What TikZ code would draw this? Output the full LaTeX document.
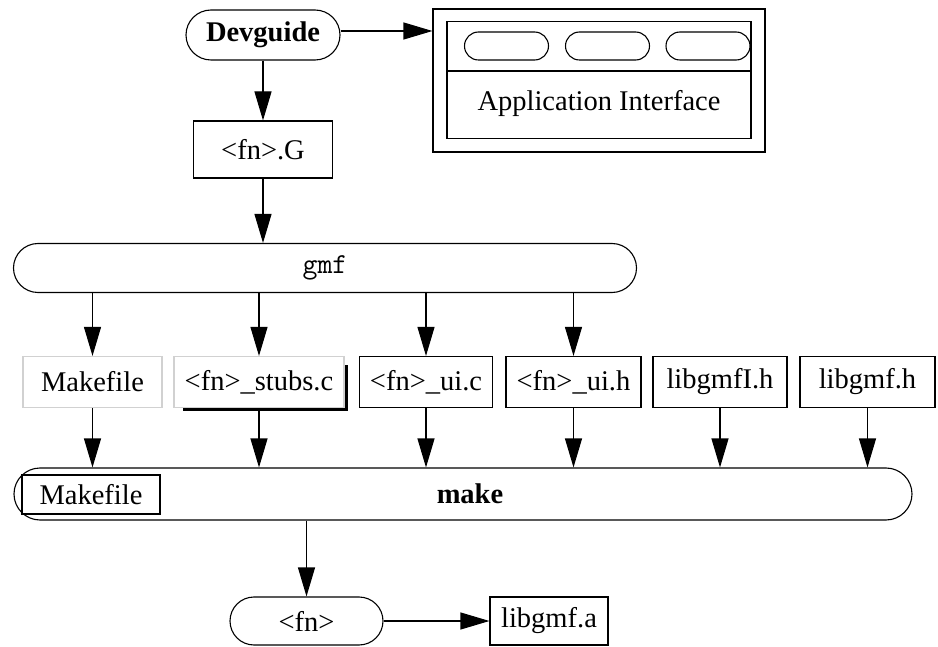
\documentclass[tikz,border=0pt]{standalone}
\usepackage{fontspec}
\setmainfont{Liberation Serif}
\usetikzlibrary{arrows.meta}
\begin{document}
\begin{tikzpicture}[x=1pt,y=-1pt,
  every node/.style={font=\fontsize{28.5}{32}\selectfont, inner sep=0pt},
  box/.style={draw, line width=1.1pt},
  faint/.style={draw=black!18, line width=1.1pt},
  pill/.style={draw, line width=1.1pt},
  arr/.style={line width=1.1pt, -{Triangle[length=29pt,width=17pt]}},
]
\useasboundingbox (0,0) rectangle (938,647);
% Devguide
\node[pill, rounded corners=25pt, minimum width=154pt, minimum height=50pt] (dev) at (263,35) {\bfseries Devguide};
% Application interface window
\node[box, minimum width=332pt, minimum height=143pt] (app) at (599,80.5) {};
\node[box, minimum width=304pt, minimum height=117pt] (appin) at (599,80) {};
\draw[line width=1.1pt] (appin.west |- 0,71) -- (appin.east |- 0,71);
\node[pill, rounded corners=14pt, minimum width=84pt, minimum height=28pt] (b1) at (506.5,46) {};
\node[pill, rounded corners=14pt, minimum width=84pt, minimum height=28pt] (b2) at (607.5,46) {};
\node[pill, rounded corners=14pt, minimum width=84pt, minimum height=28pt] (b3) at (708,46) {};
\node (apptext) at (599,104) {Application Interface};
\draw[arr] ([yshift=4pt]dev.east) -- ([yshift=4pt]dev.east -| app.west);
% <fn>.G
\node[box, minimum width=139pt, minimum height=57pt] (fnG) at (263,149.5) {\textless fn\textgreater.G};
\draw[arr] (dev.south) -- (fnG.north);
% gmf
\node[pill, rounded corners=24.5pt, minimum width=623pt, minimum height=49pt] (gmf) at (325,268) {\fontsize{29}{32}\ttfamily gmf};
\draw[arr] (fnG.south) -- (fnG.south |- gmf.north);
% row of files
\node[faint, minimum width=139pt, minimum height=51pt] (mk) at (92.5,382) {Makefile};
\node[faint, minimum width=170pt, minimum height=51pt] (stubs) at (259,382) {\textless fn\textgreater\_stubs.c};
\draw[line width=3pt] (183,409.5) -- (346.5,409.5) -- (346.5,365);
\node[box, minimum width=133pt, minimum height=51pt] (uic) at (426,382) {\textless fn\textgreater\_ui.c};
\node[box, minimum width=135pt, minimum height=51pt] (uih) at (573.5,382) {\textless fn\textgreater\_ui.h};
\node[box, minimum width=134pt, minimum height=51pt] (libI) at (720,382) {libgmfI.h};
\node[box, minimum width=135pt, minimum height=51pt] (libh) at (867.5,382) {libgmf.h};
\foreach \n in {mk,stubs,uic,uih}
  \draw[arr] (gmf.south -| \n.north) -- (\n.north);
% make
\node[pill, rounded corners=26pt, minimum width=898pt, minimum height=52pt] (make) at (463,494) {};
\node (makelbl) at (470,494) {\bfseries make};
\node[box, minimum width=138pt, minimum height=39pt] (mkin) at (91,494.5) {Makefile};
\foreach \n in {mk,stubs,uic,uih,libI,libh}
  \draw[arr] (\n.south) -- (\n.south |- make.north);
% outputs
\node[pill, rounded corners=24pt, minimum width=153pt, minimum height=48pt] (fn) at (306.5,621) {\textless fn\textgreater};
\node[box, minimum width=118pt, minimum height=48pt] (liba) at (549,621) {libgmf.a};
\draw[arr] (make.south -| fn.north) -- (fn.north);
\draw[arr] (fn.east) -- (liba.west);
\end{tikzpicture}
\end{document}
